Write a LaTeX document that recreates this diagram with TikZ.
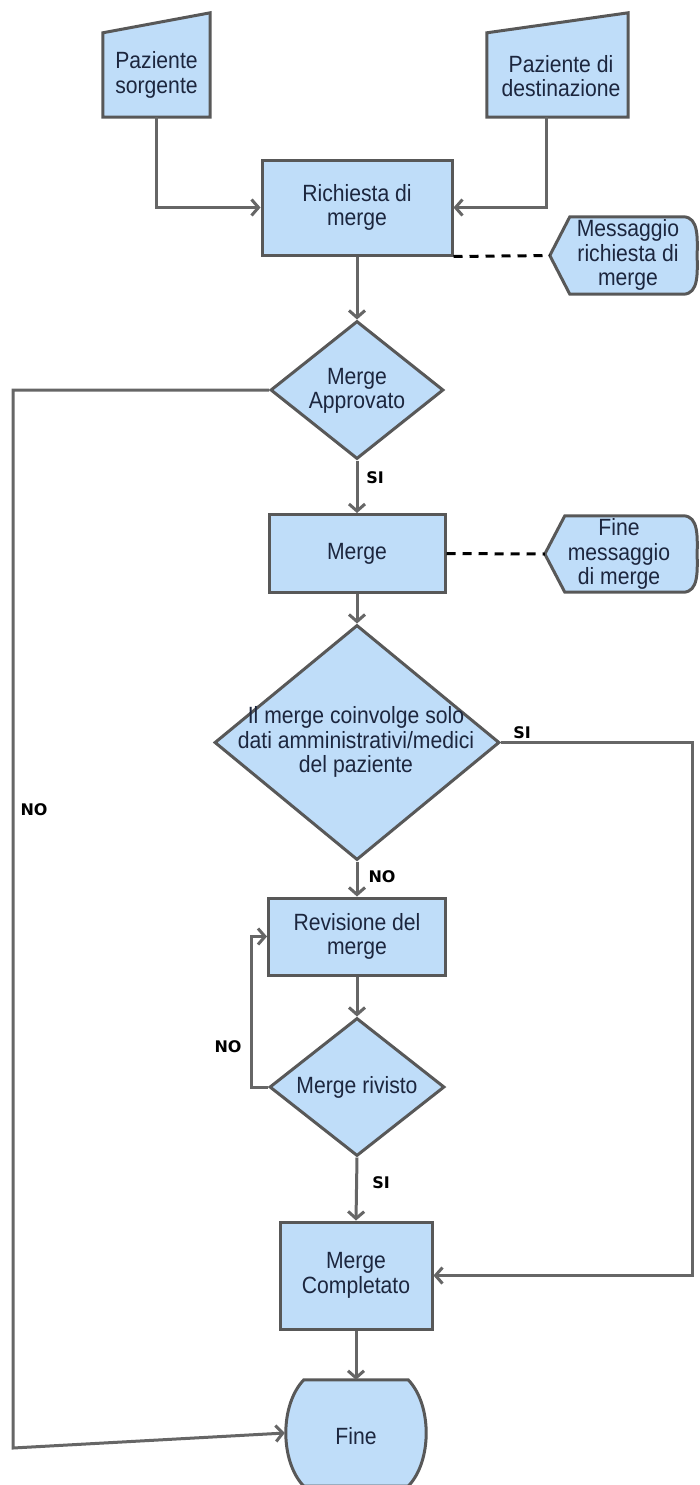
\documentclass[tikz,border=0pt]{standalone}
\usepackage{fontspec}
\setmainfont[FakeStretch=0.9]{Liberation Sans}
\newfontfamily\lblfont{DejaVu Sans}
\usetikzlibrary{shapes.geometric,arrows.meta}
\definecolor{boxfill}{RGB}{191,221,249}
\definecolor{boxline}{RGB}{88,88,88}
\definecolor{conn}{RGB}{102,102,102}
\definecolor{txtcol}{RGB}{28,38,62}
\begin{document}
\begin{tikzpicture}[x=1pt,y=-1pt,
 font=\fontsize{23.5}{24.5}\selectfont,
 proc/.style={draw=boxline, fill=boxfill, line width=3pt, text=txtcol, align=center, inner sep=0pt},
 shapeline/.style={draw=boxline, fill=boxfill, line width=3pt},
 dia/.style={diamond, draw=boxline, fill=boxfill, line width=3pt, inner sep=0pt},
 txtnode/.style={text=txtcol, align=center, inner sep=0pt},
 arr/.style={draw=conn, line width=3pt, -{Straight Barb[length=7pt,width=16pt]}},
 dashlink/.style={draw=black, line width=3pt, dash pattern=on 9pt off 7pt},
 lbl/.style={font=\lblfont\bfseries\fontsize{16}{18}\selectfont, text=black, inner sep=0pt},
 hole/.style={inner sep=0pt, draw=none}
]
\fill[white] (0,0) rectangle (699,1485);
\useasboundingbox (0,0) rectangle (699,1485);

% Paziente sorgente (manual input)
\node[hole, minimum width=107, minimum height=84] (ps) at (156.5,75) {};
\draw[shapeline] (ps.south west) -- (ps.south east) -- ([yshift=20pt]ps.north east) -- (ps.north west) -- cycle;
\node[txtnode] (pst) at (156.5,75) {Paziente\\sorgente};

% Paziente di destinazione (manual input)
\node[hole, minimum width=141, minimum height=84] (pd) at (557.5,75) {};
\draw[shapeline] (pd.south west) -- (pd.south east) -- ([yshift=20pt]pd.north east) -- (pd.north west) -- cycle;
\node[txtnode] (pdt) at (561,76) {Paziente di\\destinazione};

% Richiesta di merge
\node[proc, minimum width=190, minimum height=95] (rm) at (357,207.5) {Richiesta di\\merge};

% Messaggio richiesta di merge (display)
\node[hole, minimum width=147, minimum height=77] (msg) at (623.5,255.5) {};
\draw[shapeline] (msg.west) -- ([xshift=20pt]msg.north west) -- ([xshift=-14pt]msg.north east)
  to[out=0,in=90] (msg.east) to[out=-90,in=0] ([xshift=-14pt]msg.south east)
  -- ([xshift=20pt]msg.south west) -- cycle;
\node[txtnode] (msgt) at (628,255) {Messaggio\\richiesta di\\merge};

% Merge Approvato
\node[dia, minimum width=173, minimum height=138] (ma) at (357,390) {};
\node[txtnode] (mat) at (357,391) {Merge\\Approvato};

% Merge
\node[proc, minimum width=176, minimum height=78] (mg) at (357,553.5) {Merge};

% Fine messaggio di merge (display)
\node[hole, minimum width=152, minimum height=76] (fm) at (621,554) {};
\draw[shapeline] (fm.west) -- ([xshift=20pt]fm.north west) -- ([xshift=-14pt]fm.north east)
  to[out=0,in=90] (fm.east) to[out=-90,in=0] ([xshift=-14pt]fm.south east)
  -- ([xshift=20pt]fm.south west) -- cycle;
\node[txtnode] (fmt) at (619,554) {Fine\\messaggio\\di merge};

% Big decision
\node[dia, minimum width=285, minimum height=235] (cd) at (357,742.5) {};
\node[txtnode] (cdt) at (356,742) {Il merge coinvolge solo\\dati amministrativi/medici\\del paziente};

% Revisione del merge
\node[proc, minimum width=177, minimum height=77] (rev) at (357,936.5) {Revisione del\\merge};

% Merge rivisto
\node[dia, minimum width=175, minimum height=138] (mr) at (357,1087) {};
\node[txtnode] (mrt) at (357,1087) {Merge rivisto};

% Merge Completato
\node[proc, minimum width=152, minimum height=107] (mc) at (356,1275.5) {Merge\\Completato};

% Fine
\node[hole, minimum width=142, minimum height=106] (fine) at (356,1433) {};
\draw[shapeline] ([xshift=19pt]fine.north west) -- ([xshift=-19pt]fine.north east)
  .. controls ([xshift=5pt,yshift=-25pt]fine.north east) and ([xshift=5pt,yshift=25pt]fine.south east) .. ([xshift=-19pt]fine.south east)
  -- ([xshift=19pt]fine.south west)
  .. controls ([xshift=-5pt,yshift=25pt]fine.south west) and ([xshift=-5pt,yshift=-25pt]fine.north west) .. cycle;
\node[txtnode] (finet) at (356,1436) {Fine};

% connectors
\draw[arr] (ps.south) |- (rm.west);
\draw[arr] ([xshift=-11.5pt]pd.south) |- (rm.east);
\draw[dashlink] (rm.south east) -- (msg.west);
\draw[arr] (rm.south) -- (ma.north);
\draw[arr] (ma.south) -- (mg.north);
\draw[dashlink] (mg.east) -- (fm.west);
\draw[arr] (mg.south) -- (cd.north);
\draw[arr] (cd.south) -- (rev.north);
\draw[arr] (rev.south) -- (mr.north);
\draw[arr] (mr.south) -- (mc.north);
\draw[arr] (mc.south) -- (fine.north);

\coordinate (n1) at (13,390);
\coordinate (n2) at (13,1448);
\draw[arr] (ma.west) -- (n1) -- (n2) -- (fine.west);

\coordinate (s1) at (692,742.5);
\draw[arr] (cd.east) -- (s1) |- (mc.east);

\coordinate (l1) at (251,1087);
\draw[arr] (mr.west) -- (l1) |- (rev.west);

% labels
\node[lbl] (lsi1) at (375,478) {SI};
\node[lbl] (lsi2) at (522,733) {SI};
\node[lbl] (lno1) at (34,810) {NO};
\node[lbl] (lno2) at (382,877) {NO};
\node[lbl] (lno3) at (228,1047) {NO};
\node[lbl] (lsi3) at (381,1183) {SI};
\end{tikzpicture}
\end{document}
